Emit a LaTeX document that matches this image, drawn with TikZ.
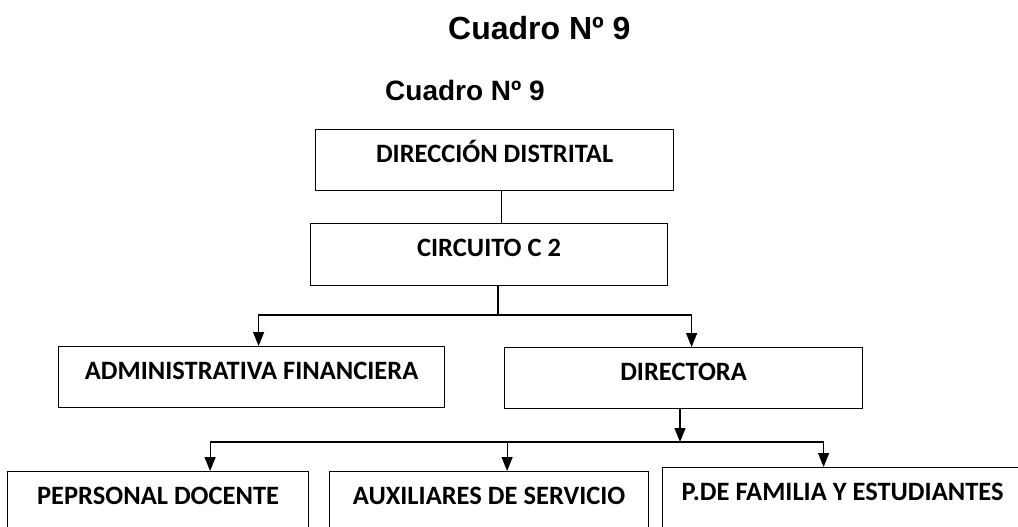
\documentclass[tikz,border=0pt]{standalone}
\usepackage{fontspec}
\setmainfont{Carlito}
\newfontfamily\arialfont{Liberation Sans}
\usetikzlibrary{arrows.meta}
\tikzset{
    caja/.style={draw, line width=1.2pt, inner sep=0pt, anchor=north west,
        text height=33pt, text depth=28pt, font=\fontsize{26.5}{26.5}\selectfont\bfseries},
    titulo/.style={anchor=base west, inner sep=0pt},
    linea/.style={line width=1.2pt},
    flecha/.style={line width=1.2pt, -{Triangle[width=11pt,length=14pt]}}
}
\begin{document}
\begin{tikzpicture}[x=1pt,y=-1pt]
    \useasboundingbox (0,0) rectangle (1018,527);
    \clip (0,0) rectangle (1018,527);

    \node[titulo, font=\arialfont\bfseries\fontsize{32}{32}\selectfont] (tit1) at (448,40) {Cuadro Nº 9};
    \node[titulo, font=\arialfont\bfseries\fontsize{28}{28}\selectfont] (tit2) at (385,100) {Cuadro Nº 9};

    \node[caja, minimum width=358pt] (direccion) at (315,129) {DIRECCIÓN DISTRITAL};
    \node[caja, minimum width=357pt, text depth=29pt] (circuito) at (310,223) {CIRCUITO C 2};
    \node[caja, minimum width=386pt] (admin) at (58,346) {ADMINISTRATIVA FINANCIERA\hspace{16pt}};
    \node[caja, minimum width=358pt] (directora) at (504,347) {DIRECTORA};
    \node[caja, minimum width=301pt, text depth=40pt] (docente) at (7,471) {PEPRSONAL DOCENTE};
    \node[caja, minimum width=319pt, text depth=40pt] (auxiliares) at (329,471) {AUXILIARES DE SERVICIO};
    \node[caja, minimum width=360pt, text depth=40pt] (familia) at (662,467) {P.DE FAMILIA Y ESTUDIANTES};

    \draw[linea] ([xshift=7pt]direccion.south) -- ([xshift=7pt]direccion.south |- circuito.north);

    \coordinate (rama1) at (498,315);
    \draw[linea] (circuito.south -| rama1) -- (rama1);
    \draw[flecha] (rama1) -| ([xshift=7pt]admin.north);
    \draw[flecha] (rama1) -| ([xshift=8pt]directora.north);

    \coordinate (rama2) at (680,442);
    \draw[flecha] (directora.south -| rama2) -- (rama2);
    \draw[flecha] (rama2) -| ([xshift=52pt]docente.north);
    \draw[flecha] (rama2) -| ([xshift=18pt]auxiliares.north);
    \draw[flecha] (rama2) -| ([xshift=-19pt]familia.north);

\end{tikzpicture}
\end{document}
